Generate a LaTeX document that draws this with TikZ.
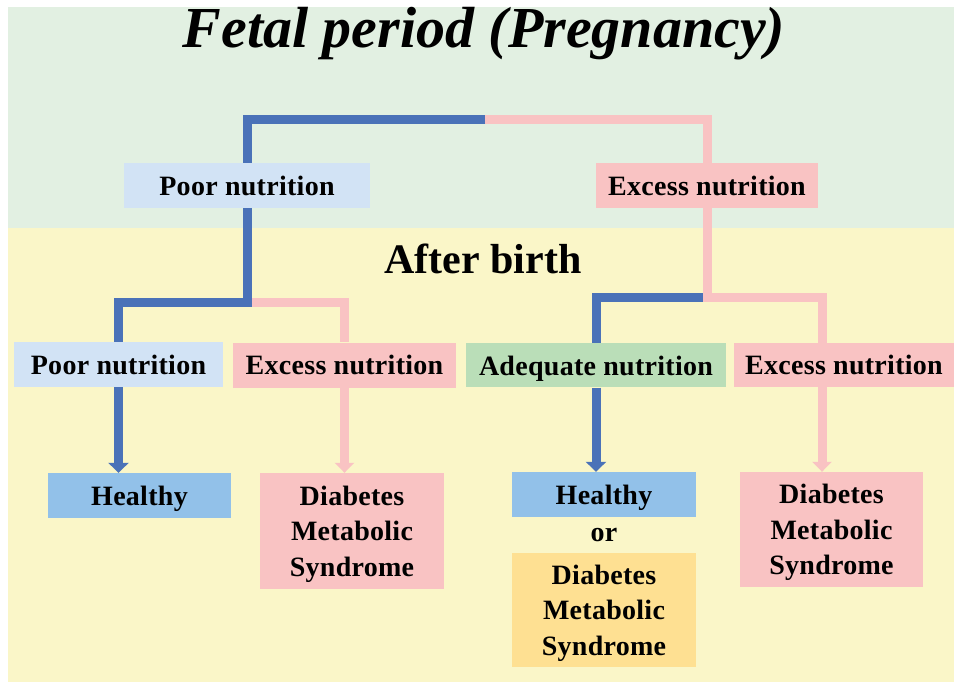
\documentclass[tikz,border=0pt]{standalone}
\usepackage{fontspec}
\setmainfont{Liberation Serif}
\usetikzlibrary{arrows.meta}
\definecolor{bgtop}{HTML}{E2F0E2}
\definecolor{bgbot}{HTML}{FAF6C8}
\definecolor{lineblue}{HTML}{4A72B8}
\definecolor{linepink}{HTML}{F9C3C3}
\definecolor{boxpale}{HTML}{D2E3F5}
\definecolor{boxblue}{HTML}{92C1E9}
\definecolor{boxgreen}{HTML}{BADEB8}
\definecolor{boxorange}{HTML}{FEE092}

\begin{document}
\begin{tikzpicture}[x=1pt,y=-1pt,
  lbl/.style={inner sep=0pt,align=center,text depth=0pt,
    font=\bfseries\fontsize{28}{35.5}\selectfont\addfontfeatures{LetterSpace=1}},
  bluebr/.style={lineblue,line width=9pt},
  pinkbr/.style={linepink,line width=9pt},
  bluearr/.style={bluebr,-{Triangle[width=20pt,length=10pt]}},
  pinkarr/.style={pinkbr,-{Triangle[width=19pt,length=10pt]}}]
  \useasboundingbox (0,0) rectangle (954,683);
  \fill[white] (0,0) rectangle (954,683);
  \fill[bgtop] (8,7) rectangle (954,228);
  \fill[bgbot] (8,228) rectangle (954,682);
  \node[anchor=base,font=\bfseries\itshape\fontsize{58}{58}\selectfont] (title) at (484,47) {Fetal period (Pregnancy)};
  \node[anchor=base,font=\bfseries\fontsize{42}{42}\selectfont] (after) at (483,273) {After birth};
  \node[lbl,fill=boxpale,minimum width=246,minimum height=45] (poor) at (247,185.5) {Poor nutrition};
  \node[lbl,fill=linepink,minimum width=222,minimum height=45] (excess) at (707,185.5) {Excess nutrition};
  \node[lbl,fill=boxpale,minimum width=209,minimum height=45] (poorB) at (118.5,364.5) {Poor nutrition};
  \node[lbl,fill=linepink,minimum width=223,minimum height=45] (excessB) at (344.5,365) {Excess nutrition};
  \node[lbl,fill=boxgreen,minimum width=260,minimum height=44] (adeq) at (596,365.3) {Adequate nutrition};
  \node[lbl,fill=linepink,minimum width=220,minimum height=44] (excessC) at (844,365) {Excess nutrition};
  \node[lbl,fill=boxblue,minimum width=183,minimum height=45] (healthA) at (139.5,495.5) {Healthy};
  \node[lbl,fill=linepink,minimum width=184,minimum height=116] (diabA) at (352,531) {Diabetes\\Metabolic\\Syndrome};
  \node[lbl,fill=boxblue,minimum width=184,minimum height=45] (healthB) at (604,494.5) {Healthy};
  \node[lbl] (or) at (604,535) {or};
  \node[lbl,fill=boxorange,minimum width=184,minimum height=114] (diabB) at (604,610) {Diabetes\\Metabolic\\Syndrome};
  \node[lbl,fill=linepink,minimum width=183,minimum height=115] (diabC) at (831.5,529.5) {Diabetes\\Metabolic\\Syndrome};
  \coordinate (top) at (485,119.5);
  \coordinate (lj) at (247,302.5);
  \coordinate (rj) at (707,297.5);
  \coordinate (rk) at (822,297.5);
  \draw[pinkbr] (top) -| (excess.north);
  \draw[bluebr] (top) -| (poor.north);
  \draw[pinkbr] (lj) -| (excessB.north);
  \draw[bluebr] (poor.south) -- (lj) -| (poorB.north);
  \draw[bluebr] (rj) -| (adeq.north);
  \draw[pinkbr] (excess.south) -- (rj) -- (rk) -- (rk |- excessC.north);
  \draw[bluearr] (poorB.south) -- (poorB.south |- healthA.north);
  \draw[pinkarr] (excessB.south) -- (excessB.south |- diabA.north);
  \draw[bluearr] (adeq.south) -- (adeq.south |- healthB.north);
  \draw[pinkarr] (rk |- excessC.south) -- (rk |- diabC.north);
\end{tikzpicture}
\end{document}
